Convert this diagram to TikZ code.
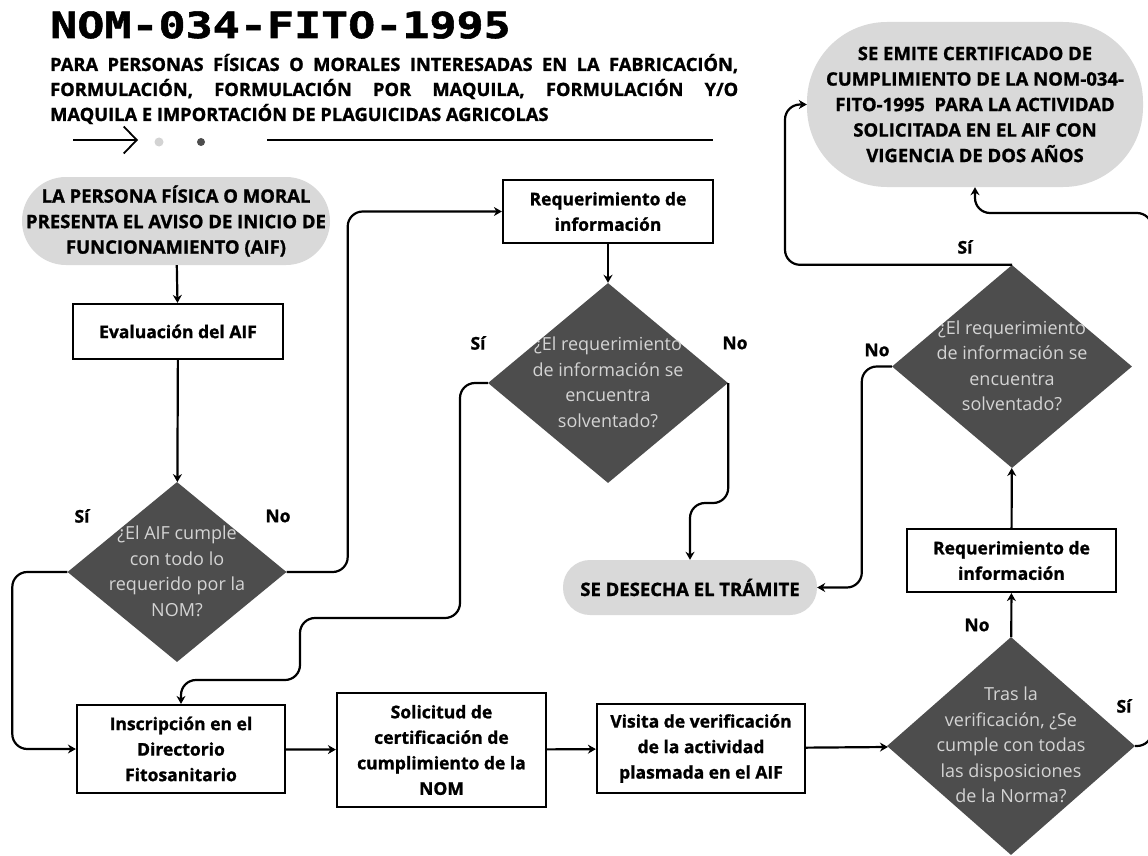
\documentclass[tikz,border=0pt]{standalone}
\usepackage{fontspec}
\setmainfont{Open Sans}[BoldFeatures={FakeBold=1.2}]
\newfontfamily\titlefont{DejaVu Sans Mono}[FakeStretch=1.25, BoldFeatures={FakeBold=1.5}]
\usetikzlibrary{shapes.geometric,arrows.meta}

\definecolor{termgray}{HTML}{D9D9D9}
\definecolor{diagray}{HTML}{4D4D4D}
\definecolor{diatext}{HTML}{D4D4D4}
\definecolor{dotgray}{HTML}{D3D3D3}

% text of a decision, kept from widening the diamond
\newcommand{\qtext}[1]{\makebox[0pt]{\smash{\raisebox{-5pt}{\begin{tabular}{@{}c@{}}#1\end{tabular}}}}}

\tikzset{
  terminal/.style={rectangle, fill=termgray, align=center, inner sep=0pt,
    font=\fontsize{18.5}{25.5}\selectfont\bfseries},
  process/.style={rectangle, draw, line width=2.2pt, fill=white, align=center, inner sep=0pt,
    font=\fontsize{17.5}{25.5}\selectfont\bfseries},
  decision/.style={diamond, fill=diagray, text=diatext, inner sep=0pt,
    font=\fontsize{18}{25.5}\selectfont},
  answer/.style={font=\fontsize{17.5}{20}\selectfont\bfseries},
  conn/.style={line width=2.2pt, -{Stealth[length=8pt,width=9pt]}, rounded corners=15pt},
}

\begin{document}
\begin{tikzpicture}[x=1pt, y=-1pt]
  \useasboundingbox (0,0) rectangle (1148,856);
  \fill[white] (0,0) rectangle (1148,856);
  \clip (0,0) rectangle (1148,856);

  % heading
  \node[anchor=base west, inner sep=0pt, font={\titlefont\fontsize{36}{40}\selectfont\bfseries}]
    (title) at (50,38) {NOM-034-FITO-1995};
  \node[anchor=base west, inner sep=0pt, font=\fontsize{18.3}{25}\selectfont\bfseries]
    (subtitle) at (50,71) {\parbox[t]{688pt}{\noindent PARA PERSONAS FÍSICAS O MORALES INTERESADAS EN LA FABRICACIÓN,\linebreak
    FORMULACIÓN, FORMULACIÓN POR MAQUILA, FORMULACIÓN Y/O\linebreak
    MAQUILA E IMPORTACIÓN DE PLAGUICIDAS AGRICOLAS}};
  \coordinate (h1) at (73,140);
  \coordinate (h2) at (138,140);
  \coordinate (h3) at (267,140);
  \coordinate (h4) at (713,140);
  \draw[line width=1.8pt, -{Straight Barb[length=13pt,width=27pt]}] (h1) -- (h2);
  \fill[dotgray] (159,142) circle (4.5pt);
  \fill[diagray] (201,142) circle (4pt);
  \draw[line width=2pt] (h3) -- (h4);

  % terminals
  \node[terminal, minimum width=308pt, minimum height=88pt, rounded corners=44pt]
    (start) at (176,221) {LA PERSONA FÍSICA O MORAL\\PRESENTA EL AVISO DE INICIO DE\\FUNCIONAMIENTO (AIF)};
  \node[terminal, minimum width=254pt, minimum height=55pt, rounded corners=27pt]
    (desecha) at (690,587.5) {SE DESECHA EL TRÁMITE};
  \node[terminal, minimum width=336pt, minimum height=165pt, rounded corners=80pt]
    (cert) at (975,104.5) {SE EMITE CERTIFICADO DE\\CUMPLIMIENTO DE LA NOM-034-\\FITO-1995\ \ PARA LA ACTIVIDAD\\SOLICITADA EN EL AIF CON\\VIGENCIA DE DOS AÑOS};

  % steps
  \node[process, minimum width=210pt, minimum height=55pt] (eval) at (178,331.5) {Evaluación del AIF};
  \node[process, minimum width=210pt, minimum height=63pt] (req1) at (608,211.5) {Requerimiento de\\información};
  \node[process, minimum width=209pt, minimum height=63pt] (req2) at (1011.5,560.5) {Requerimiento de\\información};
  \node[process, minimum width=208pt, minimum height=88pt] (inscr) at (181,749) {Inscripción en el\\Directorio\\Fitosanitario};
  \node[process, minimum width=209pt, minimum height=114pt] (solic) at (441.5,750) {Solicitud de\\certificación de\\cumplimiento de la\\NOM};
  \node[process, minimum width=208pt, minimum height=89pt] (visita) at (701,748.5) {Visita de verificación\\de la actividad\\plasmada en el AIF};

  % decisions
  \node[decision, minimum width=219pt, minimum height=180pt] (q1) at (177,572)
    {\qtext{¿El AIF cumple\\con todo lo\\requerido por la\\NOM?}};
  \node[decision, minimum width=240pt, minimum height=200pt] (q2) at (608,383)
    {\qtext{¿El requerimiento\\de información se\\encuentra\\solventado?}};
  \node[decision, minimum width=240pt, minimum height=203pt] (q3) at (1012,366.5)
    {\qtext{¿El requerimiento\\de información se\\encuentra\\solventado?}};
  \node[decision, minimum width=248pt, minimum height=218pt] (q4) at (1011,746)
    {\qtext{Tras la\\verificación, ¿Se\\cumple con todas\\las disposiciones\\de la Norma?}};

  % answers
  \node[answer] (q1si) at (82,516) {Sí};
  \node[answer] (q1no) at (278,516) {No};
  \node[answer] (q2si) at (478,343) {Sí};
  \node[answer] (q2no) at (735,343) {No};
  \node[answer] (q3no) at (877,350) {No};
  \node[answer] (q3si) at (965,247) {Sí};
  \node[answer] (q4no) at (977,625) {No};
  \node[answer] (q4si) at (1124,706) {Sí};

  % connections
  \foreach \a/\b in {
    start/eval,
    eval/q1,
    req1/q2,
    inscr/solic,
    solic/visita,
    visita/q4,
    q4/req2,
    req2/q3%
  } { \draw[conn] (\a) -- (\b); }

  \draw[conn] (q1.west) -- ++(-55,0) |- (inscr.west);
  \draw[conn] (q1.east) -- ++(61,0) |- (req1.west);
  \draw[conn] (q2.west) -| (460,618) -| (300,680) -| (inscr.north);
  \draw[conn] (q2.east) -- ++(0,120) -| (desecha.north);
  \draw[conn] (q3.west) -- ++(-30,0) |- (desecha.east);
  \draw[conn] (q3.north) -- ++(-227,0) |- (cert.west);
  \draw[conn] (q4.east) -| (1152,213) -| (cert.south);
\end{tikzpicture}
\end{document}
